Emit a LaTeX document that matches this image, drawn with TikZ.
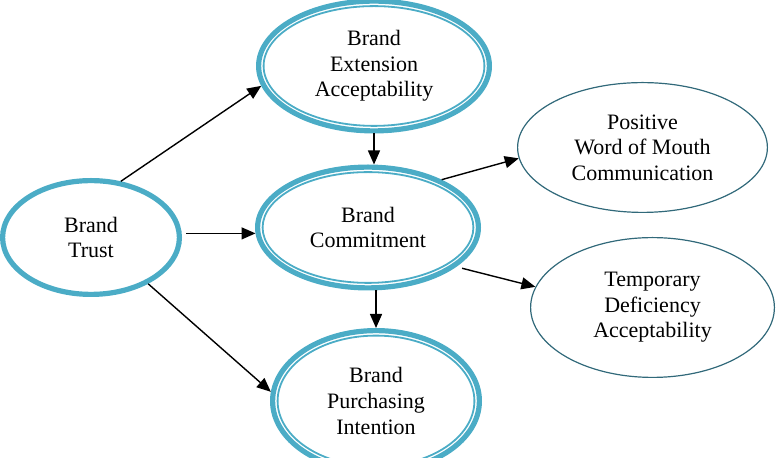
\documentclass[tikz,border=0pt]{standalone}
\usepackage{fontspec}
\setmainfont{Liberation Serif}
\usetikzlibrary{shapes.geometric,arrows.meta}
\definecolor{ringblue}{HTML}{4BACC6}
\definecolor{thinblue}{HTML}{31697A}

\begin{document}
\begin{tikzpicture}[x=.5pt,y=-.5pt]
	\tikzset{
		oval/.style={ellipse,inner sep=0pt,align=center,font=\fontsize{11}{12.8}\selectfont},
		bigoval/.style={oval,draw=ringblue,line width=2.6pt},
		thinoval/.style={oval,draw=thinblue,line width=.6pt},
		inring/.style={draw=ringblue,line width=.9pt},
		arr/.style={-{Triangle[length=7pt,width=6pt]},line width=.7pt}}
	\clip (0,0) rectangle (776,458);
	\node[bigoval,minimum width=88.4pt,minimum height=56.9pt] (trust) at (91,237.5) {Brand\\Trust};
	\node[bigoval,minimum width=115.4pt,minimum height=64.9pt] (ext) at (374,66) {Brand\\Extension\\Acceptability};
	\node[bigoval,minimum width=110.4pt,minimum height=60.4pt] (com) at (368,227.5) {Brand\\Commitment};
	\node[bigoval,minimum width=103.4pt,minimum height=70.4pt] (pur) at (376,401) {Brand\\Purchasing\\Intention};
	\node[thinoval,minimum width=124.9pt,minimum height=64.9pt] (wom) at (642.5,147.5) {Positive\\Word of Mouth\\Communication};
	\node[thinoval,minimum width=121.9pt,minimum height=69.9pt] (tda) at (652.5,307.5) {Temporary\\Deficiency\\Acceptability};
	% inner line of the double rings
	\foreach \n/\rx/\ry in {ext/55.2/29.95,com/52.7/27.7,pur/49.2/32.7}
		\draw[inring] (\n.center) ellipse [x radius=\rx pt,y radius=\ry pt];
	\draw[arr] (trust.62) -- (ext.190);
	\draw[arr,shorten <=2pt] (trust.east |- com.183) -- (com.183);
	\draw[arr] (trust.-39) -- (pur.175);
	\draw[arr] (ext.south) -- (ext.south |- com.north);
	\draw[arr] (pur.north |- com.south) -- (pur.north);
	\draw[arr] (com.33) -- (wom.185);
	\draw[arr,shorten <=3pt] (com.-24) -- (tda.170);
\end{tikzpicture}
\end{document}
